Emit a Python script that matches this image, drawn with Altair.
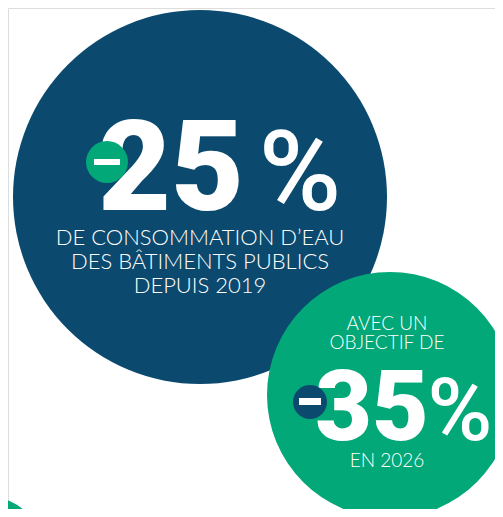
import altair as alt
import pandas as pd

# ---- content ----
main_value = "25"
target_value = "35"
pct_sign = "%"
main_caption = ["DE CONSOMMATION D\u2019EAU", "DES B\u00c2TIMENTS PUBLICS", "DEPUIS 2019"]
target_intro = ["AVEC UN", "OBJECTIF DE"]
target_year = ["EN 2026"]

BLUE = "#0b4a6e"
GREEN = "#02a878"
WHITE = "#ffffff"

# ---- layout (page pixel coordinates) ----
W, H = 487, 501
xs = alt.Scale(domain=[8, 8 + W], nice=False, zero=False)
ys = alt.Scale(domain=[8, 8 + H], nice=False, zero=False, reverse=True)

def X(f="x"):
    return alt.X(f"{f}:Q", scale=xs, axis=None)

def Y(f="y"):
    return alt.Y(f"{f}:Q", scale=ys, axis=None)

discs = pd.DataFrame({
    "x": [200, 390, -3],
    "y": [197, 395, 537],
    "d": [374, 246, 76],
    "c": [BLUE, GREEN, GREEN],
})
disc_layer = alt.Chart(discs).mark_circle(opacity=1).encode(
    x=X(), y=Y(),
    size=alt.Size("s:Q", scale=None),
    color=alt.Color("c:N", scale=None),
).transform_calculate(s="datum.d * datum.d")

big = pd.DataFrame({"x": [171, 372], "y": [210, 440], "t": [main_value, target_value], "fs": [126, 98]})
big_layer = alt.Chart(big).mark_text(
    align="center", baseline="alphabetic", font="Roboto", fontWeight=900, color=WHITE
).encode(x=X(), y=Y(), text="t:N", size=alt.Size("fs:Q", scale=None))

pct = pd.DataFrame({"x": [300, 460], "y": [210, 440], "t": [pct_sign, pct_sign], "fs": [112, 88]})
pct_layer = alt.Chart(pct).mark_text(
    align="center", baseline="alphabetic", font="Roboto", fontWeight=500, color=WHITE
).encode(x=X(), y=Y(), text="t:N", size=alt.Size("fs:Q", scale=None))

cap = pd.DataFrame({
    "x": [200, 200, 200, 387, 387, 387],
    "y": [245, 269, 293, 330, 349, 467],
    "t": main_caption + target_intro + target_year,
    "fs": [22, 22, 22, 19, 19, 19],
})
cap_layer = alt.Chart(cap).mark_text(
    align="center", baseline="alphabetic", font="Lato", fontWeight=300, color=WHITE
).encode(x=X(), y=Y(), text="t:N", size=alt.Size("fs:Q", scale=None))

badges = pd.DataFrame({"x": [107, 310], "y": [162, 402], "d": [42, 34], "c": [GREEN, BLUE]})
badge_layer = alt.Chart(badges).mark_circle(opacity=1).encode(
    x=X(), y=Y(),
    size=alt.Size("s:Q", scale=None),
    color=alt.Color("c:N", scale=None),
).transform_calculate(s="datum.d * datum.d")

bars = pd.DataFrame({"x": [94, 299], "x2": [120, 321], "y": [159, 398], "y2": [165, 405]})
bar_layer = alt.Chart(bars).mark_rect(color=WHITE).encode(
    x=X(), x2="x2:Q", y=Y(), y2="y2:Q"
)

chart = alt.layer(
    disc_layer, big_layer, pct_layer, cap_layer, badge_layer, bar_layer
).properties(
    width=W, height=H, padding=0, autosize=alt.AutoSizeParams(type="none")
).configure_view(stroke=None).configure(background="white")

chart.save("out.html", embed_options={"renderer": "svg", "actions": False})
